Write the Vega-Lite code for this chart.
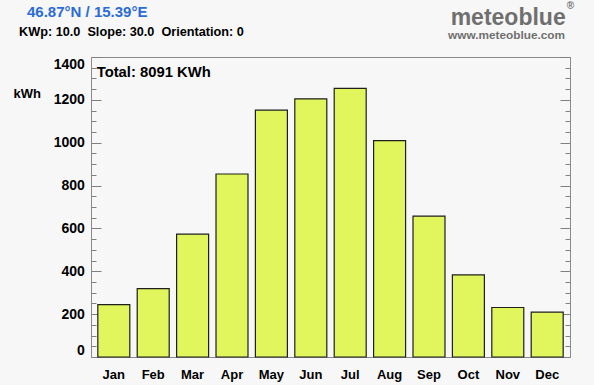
{
  "$schema": "https://vega.github.io/schema/vega-lite/v6.json",
  "width": 479,
  "height": 300,
  "autosize": "none",
  "padding": {"left": 91, "top": 57, "right": 24, "bottom": 28},
  "background": "#f7f7f7",
  "config": {
    "font": "Liberation Sans",
    "view": {"stroke": "#8a8a8a", "strokeWidth": 1, "fill": "#f7f7f7"}
  },
  "data": {
    "values": [
      {"month": "Jan", "kwh": 244},
      {"month": "Feb", "kwh": 319},
      {"month": "Mar", "kwh": 573},
      {"month": "Apr", "kwh": 854},
      {"month": "May", "kwh": 1152},
      {"month": "Jun", "kwh": 1205},
      {"month": "Jul", "kwh": 1254},
      {"month": "Aug", "kwh": 1010},
      {"month": "Sep", "kwh": 657},
      {"month": "Oct", "kwh": 383},
      {"month": "Nov", "kwh": 231},
      {"month": "Dec", "kwh": 209}
    ]
  },
  "resolve": {"scale": {"y": "shared", "x": "shared"}, "axis": {"y": "independent"}},
  "layer": [
    {
      "mark": {"type": "bar", "fill": "#e0f65c", "stroke": "#1e1e1e", "strokeWidth": 1.2},
      "encoding": {
        "x": {
          "field": "month",
          "type": "ordinal",
          "sort": ["Jan", "Feb", "Mar", "Apr", "May", "Jun", "Jul", "Aug", "Sep", "Oct", "Nov", "Dec"],
          "scale": {"paddingInner": 0.188, "paddingOuter": 0.173},
          "axis": {
            "title": null,
            "domain": false,
            "grid": false,
            "tickSize": -6,
            "tickColor": "#6a6a6a",
            "labelAngle": 0,
            "labelFont": "Liberation Sans",
            "labelFontWeight": "bold",
            "labelFontSize": 13,
            "labelColor": "#000000",
            "labelPadding": 17.5
          }
        },
        "y": {
          "field": "kwh",
          "type": "quantitative",
          "scale": {"domain": [0, 1400], "nice": false, "zero": true},
          "axis": {
            "orient": "left",
            "title": "kWh",
            "titleAngle": 0,
            "titleAlign": "left",
            "titleBaseline": "alphabetic",
            "titleX": -78,
            "titleY": 40,
            "titleFont": "Liberation Sans",
            "titleFontSize": 13,
            "titleFontWeight": "bold",
            "titleColor": "#000000",
            "values": [0, 50, 100, 150, 200, 250, 300, 350, 400, 450, 500, 550, 600, 650, 700, 750, 800, 850, 900, 950, 1000, 1050, 1100, 1150, 1200, 1250, 1300, 1350, 1400],
            "format": "d",
            "labelExpr": "datum.value % 200 === 0 ? datum.label : ''",
            "labelFlush": true,
            "labelFont": "Liberation Sans",
            "labelFontSize": 14,
            "labelFontWeight": "bold",
            "labelColor": "#000000",
            "labelPadding": 16.7,
            "tickSize": {"condition": {"test": "datum.value % 200 === 0", "value": -10}, "value": -5},
            "tickColor": "#808080",
            "domain": false,
            "grid": false
          }
        }
      }
    },
    {
      "mark": {"type": "tick", "opacity": 0},
      "encoding": {
        "y": {
          "field": "kwh",
          "type": "quantitative",
          "axis": {
            "orient": "right",
            "title": null,
            "labels": false,
            "values": [0, 50, 100, 150, 200, 250, 300, 350, 400, 450, 500, 550, 600, 650, 700, 750, 800, 850, 900, 950, 1000, 1050, 1100, 1150, 1200, 1250, 1300, 1350, 1400],
            "tickSize": {"condition": {"test": "datum.value % 200 === 0", "value": -10}, "value": -5},
            "tickColor": "#808080",
            "domain": false,
            "grid": false
          }
        }
      }
    },
    {
      "data": {"values": [{"t": "46.87°N / 15.39°E"}]},
      "mark": {"type": "text", "align": "left", "baseline": "alphabetic", "font": "Liberation Sans", "fontWeight": "bold", "fontSize": 15, "color": "#2b6cd4", "dx": -86.8, "dy": -39.7},
      "encoding": {
        "text": {"field": "t"},
        "x": {"datum": "Jan", "type": "ordinal"},
        "y": {"datum": 1400, "type": "quantitative", "axis": null}
      }
    },
    {
      "data": {"values": [{"t": "KWp: 10.0\u00a0 Slope: 30.0\u00a0 Orientation: 0"}]},
      "mark": {"type": "text", "align": "left", "baseline": "alphabetic", "font": "Liberation Sans", "fontWeight": "bold", "fontSize": 12.7, "color": "#000000", "dx": -94.8, "dy": -20.8},
      "encoding": {
        "text": {"field": "t"},
        "x": {"datum": "Jan", "type": "ordinal"},
        "y": {"datum": 1400, "type": "quantitative", "axis": null}
      }
    },
    {
      "data": {"values": [{"t": "Total: 8091 KWh"}]},
      "mark": {"type": "text", "align": "left", "baseline": "alphabetic", "font": "Liberation Sans", "fontWeight": "bold", "fontSize": 14.8, "color": "#000000", "dx": -17.1, "dy": 19.5},
      "encoding": {
        "text": {"field": "t"},
        "x": {"datum": "Jan", "type": "ordinal"},
        "y": {"datum": 1400, "type": "quantitative", "axis": null}
      }
    },
    {
      "data": {"values": [{"t": "meteoblue"}]},
      "mark": {"type": "text", "align": "right", "baseline": "alphabetic", "font": "Liberation Sans", "fontWeight": "bold", "fontSize": 23, "color": "#6f6f6f", "dx": 18.5, "dy": -32.5},
      "encoding": {
        "text": {"field": "t"},
        "x": {"datum": "Dec", "type": "ordinal"},
        "y": {"datum": 1400, "type": "quantitative", "axis": null}
      }
    },
    {
      "data": {"values": [{"t": "®"}]},
      "mark": {"type": "text", "align": "left", "baseline": "alphabetic", "font": "Liberation Sans", "fontWeight": "bold", "fontSize": 10, "color": "#6f6f6f", "dx": 19.5, "dy": -48},
      "encoding": {
        "text": {"field": "t"},
        "x": {"datum": "Dec", "type": "ordinal"},
        "y": {"datum": 1400, "type": "quantitative", "axis": null}
      }
    },
    {
      "data": {"values": [{"t": "www.meteoblue.com"}]},
      "mark": {"type": "text", "align": "right", "baseline": "alphabetic", "font": "Liberation Sans", "fontWeight": "bold", "fontSize": 11.8, "color": "#6f6f6f", "dx": 17.8, "dy": -18.5},
      "encoding": {
        "text": {"field": "t"},
        "x": {"datum": "Dec", "type": "ordinal"},
        "y": {"datum": 1400, "type": "quantitative", "axis": null}
      }
    }
  ]
}
